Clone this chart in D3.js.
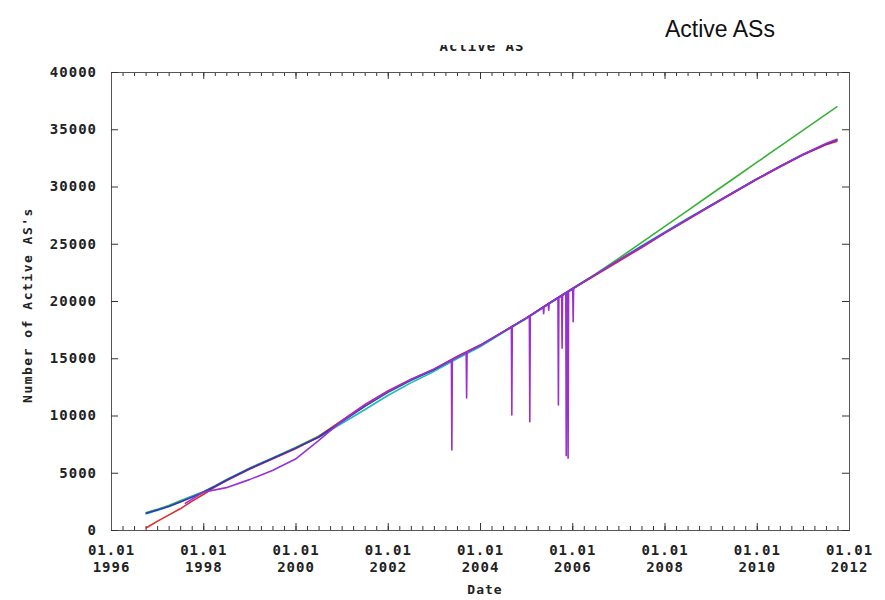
<!DOCTYPE html>
<html>
<head>
<meta charset="utf-8">
<script src="https://cdn.jsdelivr.net/npm/d3@7"></script>
<style>
  body { margin: 0; background: #fff; }
  .tick text, .lbl { font-family: "DejaVu Sans Mono", monospace; font-weight: bold; fill: #222; }
  .domain { stroke: #555; }
  .tick line { stroke: #333; }
</style>
</head>
<body>
<script>
// x values are decimal years, y values number of active ASes
var yTicks = [0, 5000, 10000, 15000, 20000, 25000, 30000, 35000, 40000];
var xTicks = [1996, 1998, 2000, 2002, 2004, 2006, 2008, 2010, 2012];

var green = [
  [1996.75, 1500], [1997.0, 1800], [1997.25, 2150], [1997.5, 2550], [1997.75, 2950],
  [1998.0, 3350], [1998.25, 3850], [1998.5, 4400], [1999.0, 5400], [1999.5, 6300],
  [2000.0, 7200], [2000.5, 8200], [2001.0, 9500], [2001.5, 10800], [2002.0, 12000],
  [2002.5, 13050], [2003.0, 14000], [2003.5, 15050], [2004.0, 16100], [2004.5, 17300],
  [2005.0, 18500], [2005.5, 19800], [2006.0, 21100], [2006.5, 22350], [2007.0, 23700],
  [2007.5, 25100], [2008.0, 26500], [2008.5, 27900], [2009.0, 29300], [2009.5, 30700],
  [2010.0, 32100], [2010.5, 33500], [2011.0, 34900], [2011.5, 36300], [2011.75, 37000]
];
var cyan = [
  [1996.75, 1400], [1997.0, 1700], [1997.25, 2050], [1997.5, 2450], [1997.75, 2900],
  [1998.0, 3300], [1998.25, 3800], [1998.5, 4350], [1999.0, 5350], [1999.5, 6250],
  [2000.0, 7150], [2000.5, 8100], [2001.0, 9300], [2001.5, 10500], [2002.0, 11750],
  [2002.5, 12850], [2003.0, 13850], [2003.5, 14950], [2004.0, 16000], [2004.5, 17250],
  [2005.0, 18450], [2005.5, 19750], [2006.0, 21050], [2006.5, 22300], [2007.0, 23550],
  [2007.5, 24800], [2008.0, 26000], [2008.5, 27200], [2009.0, 28350], [2009.5, 29500],
  [2010.0, 30650], [2010.5, 31750], [2011.0, 32800], [2011.5, 33700], [2011.75, 34050]
];
var red = [
  [1996.75, 150], [1997.0, 750], [1997.25, 1300], [1997.5, 1850], [1997.75, 2500],
  [1998.0, 3100], [1998.25, 3750], [1998.5, 4300], [1999.0, 5300], [1999.5, 6200],
  [2000.0, 7100], [2000.5, 8150], [2001.0, 9550], [2001.5, 10950], [2002.0, 12150],
  [2002.5, 13150], [2003.0, 14050], [2003.5, 15150], [2004.0, 16150], [2004.5, 17300],
  [2005.0, 18500], [2005.5, 19800], [2006.0, 21050], [2006.5, 22250], [2007.0, 23450],
  [2007.5, 24650], [2008.0, 25900], [2008.5, 27100], [2009.0, 28300], [2009.5, 29450],
  [2010.0, 30600], [2010.5, 31700], [2011.0, 32750], [2011.5, 33650], [2011.75, 33950]
];
var blue = [
  [1996.75, 1450], [1997.0, 1750], [1997.25, 2050], [1997.5, 2450], [1997.75, 2850],
  [1998.0, 3300], [1998.25, 3800], [1998.5, 4350], [1999.0, 5350], [1999.5, 6250],
  [2000.0, 7150], [2000.5, 8100], [2001.0, 9450], [2001.5, 10800], [2002.0, 12050],
  [2002.5, 13100], [2003.0, 14000], [2003.5, 15100], [2004.0, 16100], [2004.5, 17300],
  [2005.0, 18500], [2005.5, 19800], [2006.0, 21050], [2006.5, 22300], [2007.0, 23550],
  [2007.5, 24750], [2008.0, 25950], [2008.5, 27150], [2009.0, 28350], [2009.5, 29500],
  [2010.0, 30650], [2010.5, 31750], [2011.0, 32800], [2011.5, 33700], [2011.75, 34100]
];
// purple series, with its drop-outs written out as points
var purple = [
  [1997.6, 2300], [1998.0, 3300], [1998.5, 3700], [1999.0, 4400], [1999.5, 5200],
  [2000.0, 6200], [2000.5, 7800], [2001.0, 9500], [2001.5, 10900], [2002.0, 12100],
  [2002.5, 13150], [2003.0, 14050], [2003.38, 14850], [2003.39, 6990], [2003.40, 14870],
  [2003.70, 15500], [2003.71, 11530], [2003.72, 15540], [2004.0, 16100], [2004.5, 17300],
  [2004.68, 17740], [2004.69, 10040], [2004.70, 17780], [2005.0, 18500], [2005.07, 18680],
  [2005.08, 9460], [2005.09, 18720], [2005.37, 19450], [2005.38, 18900], [2005.39, 19480],
  [2005.48, 19740], [2005.49, 19200], [2005.50, 19800], [2005.69, 20280], [2005.70, 10920],
  [2005.71, 20320], [2005.77, 20470], [2005.78, 15870], [2005.79, 20520], [2005.86, 20700],
  [2005.87, 6500], [2005.88, 20740], [2005.90, 20800], [2005.91, 6260], [2005.92, 20850],
  [2006.01, 21080], [2006.02, 18190], [2006.03, 21130], [2006.5, 22300], [2007.0, 23550],
  [2007.5, 24700], [2008.0, 25950], [2008.5, 27150], [2009.0, 28300], [2009.5, 29500],
  [2010.0, 30650], [2010.5, 31750], [2011.0, 32800], [2011.5, 33750], [2011.75, 34150]
];

var series = [
  { name: "green", values: green, colour: "#36b236" },
  { name: "cyan", values: cyan, colour: "#1fb8c4" },
  { name: "red", values: red, colour: "#dd2a2a" },
  { name: "blue", values: blue, colour: "#3333c8" },
  { name: "purple", values: purple, colour: "#9a30d2" }
];

var W = 885, H = 600;
var plotLeft = 111, plotRight = 849, plotTop = 72, plotBottom = 530;

var svg = d3.select("body").append("svg")
  .attr("width", W)
  .attr("height", H);

var x = d3.scaleLinear().domain([1996, 2012]).range([plotLeft, plotRight]);
var y = d3.scaleLinear().domain([0, 40000]).range([plotBottom, plotTop]);

// big title top right
svg.append("text")
  .attr("x", 665)
  .attr("y", 37)
  .style("font-family", "Liberation Sans, Arial, sans-serif")
  .style("font-size", "23px")
  .attr("fill", "#111")
  .text("Active ASs");

// the original small title, top half cut off
svg.append("clipPath").attr("id", "cut")
  .append("rect").attr("x", 380).attr("y", 45).attr("width", 200).attr("height", 12);
svg.append("text")
  .attr("class", "lbl")
  .attr("x", 482)
  .attr("y", 51)
  .attr("clip-path", "url(#cut)")
  .attr("text-anchor", "middle")
  .style("font-size", "14px")
  .style("letter-spacing", "1px")
  .text("Active AS");

// minor and major ticks, all four sides
var quarters = d3.range(0, 65).map(function(i) { return 1996 + i / 4; });

svg.append("g").attr("transform", "translate(0," + plotBottom + ")")
  .call(d3.axisBottom(x).tickValues(quarters).tickSize(-4).tickFormat(""));
svg.append("g").attr("transform", "translate(0," + plotBottom + ")")
  .call(d3.axisBottom(x).tickValues(xTicks).tickSize(-7).tickFormat(""));
svg.append("g").attr("transform", "translate(0," + plotTop + ")")
  .call(d3.axisTop(x).tickValues(quarters).tickSize(-4).tickFormat(""));
svg.append("g").attr("transform", "translate(0," + plotTop + ")")
  .call(d3.axisTop(x).tickValues(xTicks).tickSize(-7).tickFormat(""));
svg.append("g").attr("transform", "translate(" + plotRight + ",0)")
  .call(d3.axisRight(y).tickValues(yTicks).tickSize(-7).tickFormat(""));
var yAxis = svg.append("g").attr("transform", "translate(" + plotLeft + ",0)")
  .call(d3.axisLeft(y).tickValues(yTicks).tickSize(-7).tickPadding(14).tickFormat(d3.format("d")));

yAxis.selectAll("text")
  .style("font-size", "14px")
  .style("letter-spacing", "1px");

// x labels on two lines
var xLab = svg.append("g").attr("transform", "translate(0," + plotBottom + ")")
  .call(d3.axisBottom(x).tickValues(xTicks).tickSize(0));
xLab.select(".domain").remove();
xLab.selectAll("text").each(function(d) {
  var t = d3.select(this);
  t.text(null).attr("y", null).attr("dy", null)
    .style("font-size", "14px")
    .style("letter-spacing", "1px");
  t.append("tspan").attr("x", 0).attr("y", 25).text("01.01");
  t.append("tspan").attr("x", 0).attr("y", 42).text(d);
});

// series lines
var line = d3.line()
  .x(function(d) { return x(d[0]); })
  .y(function(d) { return y(d[1]); });

svg.append("g").selectAll("path.series")
  .data(series)
  .enter().append("path")
  .attr("class", "series")
  .attr("fill", "none")
  .attr("stroke", function(d) { return d.colour; })
  .attr("stroke-width", 1.6)
  .attr("stroke-linejoin", "round")
  .attr("d", function(d) { return line(d.values); });

// axis titles
svg.append("text")
  .attr("class", "lbl")
  .attr("x", 485)
  .attr("y", 594)
  .attr("text-anchor", "middle")
  .style("font-size", "13px")
  .style("letter-spacing", "1px")
  .text("Date");

svg.append("text")
  .attr("class", "lbl")
  .attr("transform", "translate(32,305) rotate(-90)")
  .attr("text-anchor", "middle")
  .style("font-size", "13px")
  .style("letter-spacing", "1.5px")
  .text("Number of Active AS's");
</script>
</body>
</html>
